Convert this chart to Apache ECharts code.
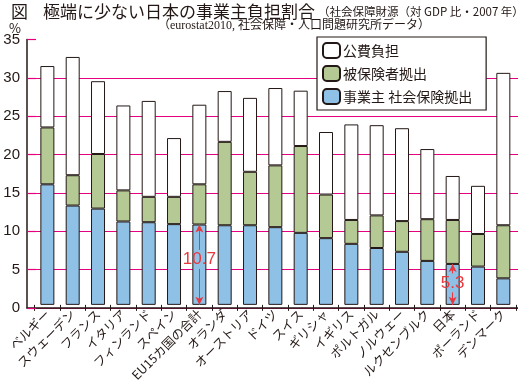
<!DOCTYPE html>
<html><head><meta charset="utf-8">
<script src="https://cdn.jsdelivr.net/npm/echarts@6/dist/echarts.min.js"></script>
<style>html,body{margin:0;padding:0;background:#fff}#c{width:518px;height:384px}</style>
</head><body><div id="c"></div>
<script>
const categories = ['ベルギー','スウェーデン','フランス','イタリア','フィンランド','スペイン','EU15カ国の合計','オランダ','オーストリア','ドイツ','スイス','ギリシャ','イギリス','ポルトガル','ノルウェー','ルクセンブルク','日本','ポーランド','デンマーク'];
// cumulative levels (% of GDP)
const employer = [15.9,13.1,12.7,11.0,10.9,10.65,10.6,10.5,10.5,10.25,9.5,8.8,8.05,7.5,7.0,5.8,5.4,5.05,3.5];
const insuredTop = [23.4,17.1,19.9,15.1,14.25,14.25,15.9,21.5,17.55,18.4,20.95,14.55,11.2,11.8,11.05,11.3,11.2,9.35,10.5];
const total = [31.5,32.7,29.5,26.3,26.9,22.0,26.4,28.2,27.3,28.6,28.25,22.8,23.8,23.7,23.3,20.55,17.0,15.7,30.6];
const seriesNames = ['事業主 社会保険拠出','被保険者拠出','公費負担'];
const yTicks = [0,5,10,15,20,25,30,35];
const annotations = [{cat:'EU15カ国の合計', text:'10.7', mid:6.0},{cat:'日本', text:'5.3', mid:2.9}];

const insured = insuredTop.map((v,i)=>+(v-employer[i]).toFixed(2));
const publicPart = total.map((v,i)=>+(v-insuredTop[i]).toFixed(2));

const RED = '#e8383d', PINK = '#e4007f', BLUE = '#8fc0e6', GREEN = '#b5c995', INK = '#231815';
const FONT = '"Noto Sans CJK JP", "Noto Sans", sans-serif';

function annotationLines(){
  const lines = [], points = [];
  annotations.forEach(a=>{
    const i = categories.indexOf(a.cat);
    const top = employer[i];
    lines.push([{coord:[i,0], symbol:'arrow'},{coord:[i,a.mid-1.25], symbol:'none'}]);
    lines.push([{coord:[i,a.mid+1.25], symbol:'none'},{coord:[i,top], symbol:'arrow'}]);
    points.push({coord:[i,a.mid], value:a.text});
  });
  return {lines, points};
}
const ann = annotationLines();

const chart = echarts.init(document.getElementById('c'), null, {renderer:'canvas'});
const gTop = 39.5, gBottom = 76, plotH = 384 - gTop - gBottom;
function txt(x, y, text, font){
  return {type:'text', x:x, y:y, style:{text:text, font:font, fill:INK, verticalAlign:'top', align:'left'}};
}
chart.setOption({
  animation:false,
  backgroundColor:'#fff',
  textStyle:{fontFamily:FONT},
  graphic:[
    txt(11, 3, '図', '17px '+FONT),
    txt(43, 3, '極端に少ない日本の事業主負担割合', '17px '+FONT),
    txt(318, 6, '（社会保障財源（対 GDP 比・2007 年））', '11.5px '+FONT),
    txt(158, 20, '（eurostat2010, 社会保障・人口問題研究所データ）', '12px "Liberation Serif", '+FONT),
    txt(9, 22, '%', '13px '+FONT)
  ],
  legend:{
    orient:'vertical', left:317, top:37, width:150,
    padding:[5,14,5,5], itemGap:6, itemWidth:17, itemHeight:15,
    backgroundColor:'#fff', borderColor:INK, borderWidth:1.2,
    data:[seriesNames[2],seriesNames[1],seriesNames[0]],
    textStyle:{fontSize:14, color:INK, fontFamily:FONT, padding:[0,0,0,-2]},
    z:10
  },
  grid:[
    {left:27, right:0, top:gTop, bottom:gBottom},
    {left:27, right:0, top:gTop + plotH/35*5, bottom:gBottom},
    {left:34.7, right:2, top:gTop, bottom:gBottom}
  ],
  xAxis:[
    {gridIndex:0, type:'category', data:[''], z:6,
      axisLine:{lineStyle:{color:INK, width:1.5}}, axisTick:{show:false}, axisLabel:{show:false}},
    {gridIndex:1, type:'category', data:[''], show:false},
    {gridIndex:2, type:'category', data:categories,
      axisLine:{show:false},
      axisTick:{show:true, length:6, lineStyle:{color:INK, width:1}},
      axisLabel:{rotate:45, fontSize:12.5, color:INK, margin:7, interval:0, fontFamily:FONT}}
  ],
  yAxis:[
    {gridIndex:0, type:'value', min:0, max:35, interval:5, z:6,
      axisLine:{show:true, lineStyle:{color:INK, width:1.5}},
      axisTick:{show:true, inside:true, length:9, lineStyle:{color:PINK, width:1.2}},
      axisLabel:{fontSize:15, color:INK, margin:7, fontFamily:'"Liberation Sans", sans-serif',
        formatter:v=>yTicks.includes(v)?String(v):''},
      splitLine:{show:false}},
    {gridIndex:1, type:'value', min:0, max:30, interval:5,
      axisLine:{show:false}, axisTick:{show:false}, axisLabel:{show:false},
      splitLine:{show:true, lineStyle:{color:PINK, width:1.2}}},
    {gridIndex:2, type:'value', min:0, max:35, interval:5, show:false, splitLine:{show:false}}
  ],
  series:[
    {name:seriesNames[0], type:'bar', stack:'s', xAxisIndex:2, yAxisIndex:2, data:employer, barWidth:14,
      itemStyle:{color:BLUE, borderColor:INK, borderWidth:1},
      markLine:{silent:true, symbolSize:[6,8], label:{show:false},
        lineStyle:{color:RED, width:1, type:'solid'}, data:ann.lines},
      markPoint:{silent:true, symbol:'rect', symbolSize:0,
        label:{show:true, position:'inside', color:RED, fontSize:17, fontFamily:'"Liberation Sans", sans-serif',
          formatter:p=>p.value}, data:ann.points}},
    {name:seriesNames[1], type:'bar', stack:'s', xAxisIndex:2, yAxisIndex:2, data:insured, barWidth:14,
      itemStyle:{color:GREEN, borderColor:INK, borderWidth:1}},
    {name:seriesNames[2], type:'bar', stack:'s', xAxisIndex:2, yAxisIndex:2, data:publicPart, barWidth:14,
      itemStyle:{color:'#fff', borderColor:INK, borderWidth:1}}
  ]
});
</script></body></html>
